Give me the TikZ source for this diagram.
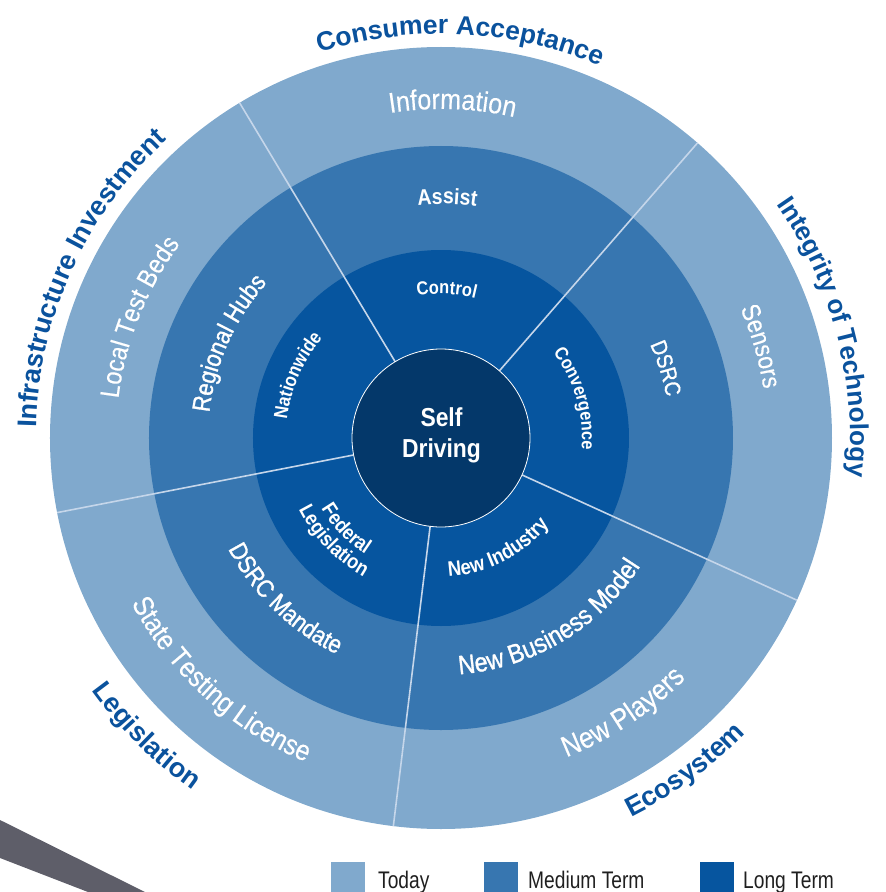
\documentclass[tikz,border=0pt]{standalone}
\usepackage{fontspec}
\setmainfont{Liberation Sans}
\newfontfamily\legfont{Liberation Sans}[FakeStretch=0.8]
\newfontfamily\ringfont{Liberation Sans}[FakeStretch=0.88,FakeBold=0.3]
\newfontfamily\medfont{Liberation Sans}[FakeStretch=0.88,FakeBold=1.2]
\newfontfamily\boldcn{Liberation Sans Bold}[FakeStretch=0.88]
\usetikzlibrary{decorations.text}
\definecolor{today}{HTML}{80A9CD}
\definecolor{midterm}{HTML}{3776B0}
\definecolor{longterm}{HTML}{06559F}
\definecolor{corefill}{HTML}{04386A}
\definecolor{lbl}{HTML}{0A529D}
\definecolor{stripe}{HTML}{5E5E69}
\definecolor{divline}{HTML}{C5D6EA}
% clockwise arc text (letter tops outward): #1 baseline radius, #2 centre angle, #3 size, #4 format, #5 text
\newcommand\cwtext[5]{\path[decorate,decoration={text along path,text align=center,text={|\fontsize{#3}{#3}\selectfont#4|#5}}] ({#2+60}:#1pt) arc[start angle={#2+60},end angle={#2-60},radius=#1pt];}
% counter-clockwise arc text (letter tops inward)
\newcommand\ccwtext[5]{\path[decorate,decoration={text along path,text align=center,text={|\fontsize{#3}{#3}\selectfont#4|#5}}] ({#2-60}:#1pt) arc[start angle={#2-60},end angle={#2+60},radius=#1pt];}
\tikzset{
  divider/.style={draw=divline,line width=1.6pt},
  legbox/.style={minimum width=34pt,minimum height=30pt,inner sep=0pt,outer sep=0pt,anchor=south west},
  legtext/.style={font=\legfont\fontsize{24}{24}\selectfont,text=black!88,inner sep=0pt,anchor=base west},
  coretext/.style={font=\boldcn\fontsize{26}{26}\selectfont,text=white,inner sep=0pt,anchor=base}
}
\begin{document}
\begin{tikzpicture}[x=1pt,y=1pt]
\path[use as bounding box] (-441,-454) rectangle (445,438);
% grey stripe
\fill[stripe] (-441,-382) -- (-296,-454) -- (-353,-454) -- (-441,-420) -- cycle;
% rings
\fill[today] (0,0) circle[radius=391pt];
\fill[midterm] (0,0) circle[radius=292pt];
\fill[longterm] (0,0) circle[radius=188pt];
% dividers
\foreach \a in {49,121,191,263,335.5} \draw[divider] (\a:89pt) -- (\a:391pt);
% core
\node[circle,minimum size=178pt,inner sep=0pt,fill=corefill,draw=white,line width=0.8pt] (core) at (0,0) {};
\node[coretext] (self) at (0.5,11.3) {Self};
\node[coretext] (driving) at (0.5,-19.7) {Driving};
% outer category labels
\cwtext{404}{87.2}{26.5}{\bfseries\color{lbl}}{Consumer Acceptance}
\cwtext{405}{155.55}{27}{\bfseries\color{lbl}}{Infrastructure Investment}
\cwtext{409}{14.75}{26}{\bfseries\color{lbl}}{Integrity of Technology}
\ccwtext{431}{-134.65}{27}{\bfseries\color{lbl}}{Legislation}
\ccwtext{424}{-53.75}{27}{\bfseries\color{lbl}}{Ecosystem}
% today ring
\cwtext{329}{88}{28.4}{\ringfont\color{white}}{Information}
\cwtext{325}{158.2}{26.7}{\ringfont\color{white}}{Local Test Beds}
\cwtext{326}{16}{26.1}{\ringfont\color{white}}{Sensors}
\ccwtext{351}{-132.3}{28.4}{\ringfont\color{white}}{State Testing License}
\ccwtext{343}{-56.5}{29.2}{\ringfont\color{white}}{New Players}
% medium ring
\cwtext{234}{88.5}{22.2}{\boldcn\color{white}}{Assist}
\cwtext{233}{156}{25}{\medfont\color{white}}{Regional Hubs}
\cwtext{229}{17.2}{22.2}{\medfont\color{white}}{DSRC}
\ccwtext{240}{-134.1}{25}{\medfont\color{white}}{DSRC Mandate}
\ccwtext{237}{-59.15}{26.6}{\medfont\color{white}}{New Business Model}
% long ring
\cwtext{144}{87.8}{18.75}{\boldcn\color{white}}{Control}
\cwtext{155}{156.5}{19.3}{\boldcn\color{white}}{Nationwide}
\cwtext{141}{16.3}{18.6}{\boldcn\color{white}}{Convergence}
\ccwtext{139}{-136.2}{20.5}{\boldcn\color{white}}{Federal}
\ccwtext{159}{-136.3}{20.5}{\boldcn\color{white}}{Legislation}
\ccwtext{138.5}{-62.75}{21.1}{\boldcn\color{white}}{New Industry}
% legend
\node[legbox,fill=today] (boxToday) at (-110,-454) {};
\node[legtext] (tToday) at (-63,-450) {Today};
\node[legbox,fill=midterm] (boxMedium) at (43,-454) {};
\node[legtext] (tMedium) at (87,-450) {Medium Term};
\node[legbox,fill=longterm] (boxLong) at (259,-454) {};
\node[legtext] (tLong) at (302,-450) {Long Term};
\end{tikzpicture}
\end{document}
